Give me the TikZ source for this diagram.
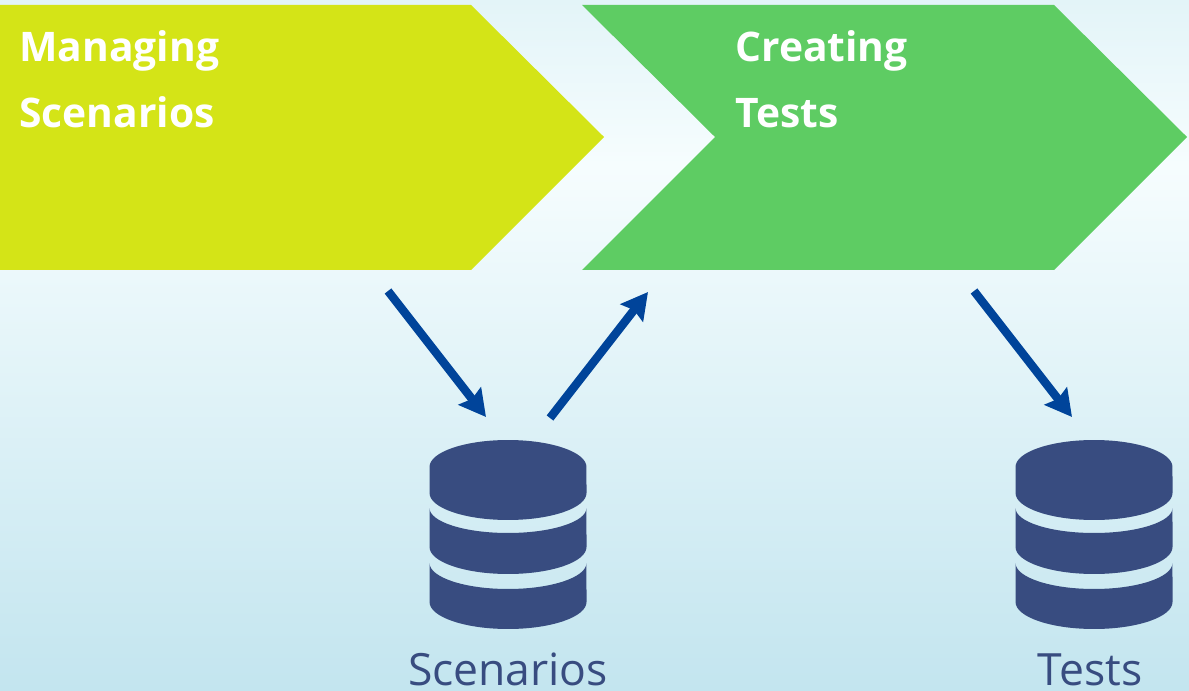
\documentclass[tikz,border=0pt]{standalone}
\usepackage{fontspec}
\setmainfont{Open Sans}
\usetikzlibrary{arrows.meta,positioning}

\definecolor{limestep}{HTML}{D4E417}
\definecolor{greenstep}{HTML}{5ECC63}
\definecolor{flowblue}{HTML}{00449A}
\definecolor{dbblue}{HTML}{384C80}
\definecolor{bgtop}{HTML}{E3F4F8}
\definecolor{bgmid}{HTML}{F6FDFE}
\definecolor{bgbottom}{HTML}{C3E5EF}

\tikzset{
  steptext/.style={text=white,font=\fontsize{23.2}{26}\selectfont\bfseries,inner sep=0pt,anchor=base west},
  dbtext/.style={text=dbblue,font=\fontsize{25.3}{27}\selectfont,inner sep=0pt,anchor=base},
  flow/.style={draw=flowblue,line width=4.8pt,-{Stealth[length=15pt,width=16pt,inset=2pt]}},
  pics/dbstack/.style={code={
    \fill[dbblue] (-78.5,162) arc[start angle=180,end angle=0,x radius=1.57cm,y radius=.54cm]
      -- (78.5,136) arc[start angle=0,end angle=-180,x radius=1.57cm,y radius=.54cm] -- cycle;
    \fill[dbblue] (-78.5,121) arc[start angle=180,end angle=360,x radius=1.57cm,y radius=.5cm]
      -- (78.5,82) arc[start angle=0,end angle=-180,x radius=1.57cm,y radius=.54cm] -- cycle;
    \fill[dbblue] (-78.5,66) arc[start angle=180,end angle=360,x radius=1.57cm,y radius=.52cm]
      -- (78.5,27) arc[start angle=0,end angle=-180,x radius=1.57cm,y radius=.54cm] -- cycle;
  }}
}

\begin{document}
\begin{tikzpicture}[x=.02cm,y=.02cm]
    \useasboundingbox (0,0) rectangle (1189,690);
    \shade[top color=bgtop,bottom color=bgmid] (0,525) rectangle (1189,690);
    \shade[top color=bgmid,bottom color=bgbottom] (0,0) rectangle (1189,526);

    % process steps
    \fill[limestep] (0,685) -- (471,685) -- (604,553) -- (471,420) -- (0,420) -- cycle;
    \fill[greenstep] (582,685) -- (1054,685) -- (1187,553) -- (1054,420) -- (582,420) -- (715,553) -- cycle;

    \node[steptext] (managing) at (19,628) {Managing};
    \node[steptext,below=1.32cm of managing.base west,anchor=base west] (scenarios) {Scenarios};
    \node[steptext] (creating) at (735,628) {Creating};
    \node[steptext,below=1.32cm of creating.base west,anchor=base west] (tests) {Tests};

    % stores
    \pic at (508,61) {dbstack};
    \pic at (1094,61) {dbstack};
    \node[dbtext] (scenariosdb) at (508,5) {Scenarios};
    \node[dbtext] (testsdb) at (1090,5) {Tests};

    \coordinate (A) at (388,399);
    \coordinate (B) at (486,273);
    \coordinate (C) at (550,272);
    \coordinate (D) at (648,398);
    \coordinate (E) at (974,399);
    \coordinate (F) at (1072,273);

    \draw[flow] (A) -- (B);
    \draw[flow] (C) -- (D);
    \draw[flow] (E) -- (F);
  \end{tikzpicture}
\end{document}
